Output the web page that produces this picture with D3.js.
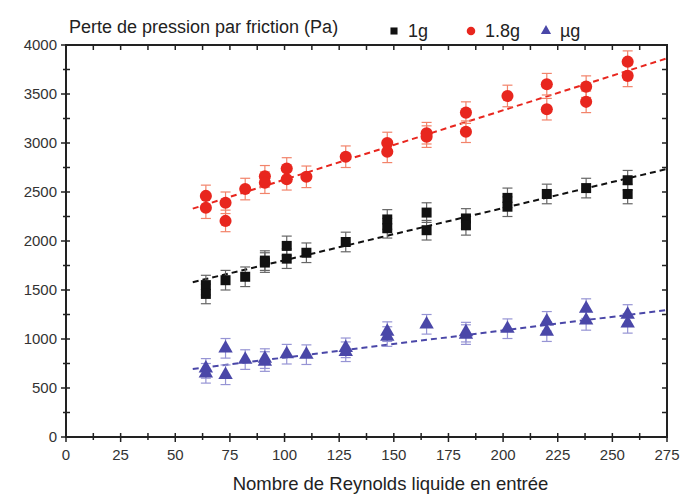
<!DOCTYPE html>
<html><head><meta charset="utf-8">
<script src="https://cdn.jsdelivr.net/npm/d3@7"></script>
<style>body{margin:0;background:#fff}</style>
</head><body><svg id="c" width="680" height="497"></svg>
<script>
// ---- data ----
const xTicks = [0,25,50,75,100,125,150,175,200,225,250,275];
const yTicks = [0,500,1000,1500,2000,2500,3000,3500,4000];
const seriesNames = ["1g","1.8g","µg"];

const g1_x = [64,64,73,82,91,91,101,101,110,128,147,147,165,165,183,183,202,202,220,238,257,257];
const g1_y = [1550,1460,1600,1635,1800,1780,1950,1820,1880,1990,2220,2130,2290,2110,2230,2160,2440,2350,2480,2540,2620,2480];
const g1_err = 100;

const g18_x = [64,64,73,73,82,91,91,101,101,110,128,147,147,165,165,183,183,202,220,220,238,238,257,257];
const g18_y = [2460,2340,2390,2205,2530,2660,2595,2740,2630,2655,2860,3000,2910,3100,3065,3310,3115,3480,3600,3345,3575,3420,3830,3685];
const g18_err = 110;

const mug_x = [64,64,73,73,82,91,91,101,110,128,128,147,147,165,183,183,202,220,220,238,238,257,257];
const mug_y = [700,650,905,635,790,800,770,845,840,910,870,1075,1025,1150,1070,1045,1105,1180,1075,1310,1190,1250,1160];
const mug_err = 100;

// fitted trend lines (end points)
const fit_x = [58,275];
const fit_g1 = [1580,2735];
const fit_g18 = [2330,3864];
const fit_mug = [694,1296];

// ---- chart ----
const svg = d3.select("#c");
const L=66, R=667, T=45, B=437;
const x = d3.scaleLinear().domain([0,275]).range([L,R]);
const y = d3.scaleLinear().domain([0,4000]).range([B,T]);
const font = "Liberation Sans, Arial, sans-serif";

const series = [
  {name:seriesNames[0], xs:g1_x, ys:g1_y, err:g1_err, fit:fit_g1, color:"#111111", ecolor:"#666666", shape:d3.symbolSquare, size:100},
  {name:seriesNames[1], xs:g18_x, ys:g18_y, err:g18_err, fit:fit_g18, color:"#e8261e", ecolor:"#f2836a", shape:d3.symbolCircle, size:115},
  {name:seriesNames[2], xs:mug_x, ys:mug_y, err:mug_err, fit:fit_mug, color:"#4a47a8", ecolor:"#9694d4", shape:d3.symbolTriangle, size:90}
];

// fit lines
series.forEach(s=>{
  svg.append("line")
    .attr("x1",x(fit_x[0])).attr("x2",x(fit_x[1]))
    .attr("y1",y(s.fit[0])).attr("y2",y(s.fit[1]))
    .attr("stroke",s.color).attr("stroke-width",2).attr("stroke-dasharray","6,4");
});

// error bars and markers
series.forEach(s=>{
  const gr = svg.append("g");
  s.xs.forEach((xv,i)=>{
    const cx=x(xv), yv=s.ys[i];
    gr.append("line").attr("x1",cx).attr("x2",cx).attr("y1",y(yv-s.err)).attr("y2",y(yv+s.err))
      .attr("stroke",s.ecolor).attr("stroke-width",1.2);
    [yv-s.err,yv+s.err].forEach(v=>{
      gr.append("line").attr("x1",cx-5).attr("x2",cx+5).attr("y1",y(v)).attr("y2",y(v))
        .attr("stroke",s.ecolor).attr("stroke-width",1.2);
    });
  });
  s.xs.forEach((xv,i)=>{
    gr.append("path").attr("d",d3.symbol().type(s.shape).size(s.size)())
      .attr("transform",`translate(${x(xv)},${y(s.ys[i])})`).attr("fill",s.color);
  });
});

// axes
const ax = svg.append("g").attr("stroke","#222").attr("stroke-width",1.5);
ax.append("rect").attr("x",L).attr("y",T).attr("width",R-L).attr("height",B-T)
  .attr("fill","none").attr("stroke-width",2);

const xMinor = d3.range(0,276,12.5);
const yMinor = d3.range(0,4001,250);
xMinor.forEach(v=>{
  const major = v%25===0;
  ax.append("line").attr("x1",x(v)).attr("x2",x(v)).attr("y1",B-4).attr("y2",B+(major?5:3));
  ax.append("line").attr("x1",x(v)).attr("x2",x(v)).attr("y1",T).attr("y2",T+5);
});
yMinor.forEach(v=>{
  const major = v%500===0;
  ax.append("line").attr("x1",L-(major?5:3)).attr("x2",L+4).attr("y1",y(v)).attr("y2",y(v));
  ax.append("line").attr("x1",R-5).attr("x2",R).attr("y1",y(v)).attr("y2",y(v));
});

svg.append("g").selectAll("text").data(xTicks).join("text")
  .attr("x",d=>x(d)).attr("y",B+23).attr("text-anchor","middle")
  .attr("font-family",font).attr("font-size",15).attr("fill","#333").text(d=>d);
svg.append("g").selectAll("text").data(yTicks).join("text")
  .attr("x",L-9).attr("y",d=>y(d)+5).attr("text-anchor","end")
  .attr("font-family",font).attr("font-size",15).attr("fill","#333").text(d=>d);

svg.append("text").attr("x",x(137.5)+24).attr("y",490).attr("text-anchor","middle")
  .attr("font-family",font).attr("font-size",18.5).attr("fill","#222")
  .text("Nombre de Reynolds liquide en entrée");
svg.append("text").attr("x",69).attr("y",33)
  .attr("font-family",font).attr("font-size",18).attr("fill","#222")
  .text("Perte de pression par friction (Pa)");

// legend
const legX = [394,471,546];
series.forEach((s,i)=>{
  svg.append("path").attr("d",d3.symbol().type(s.shape).size(s.size*0.5)())
    .attr("transform",`translate(${legX[i]},31)`).attr("fill",s.color);
  svg.append("text").attr("x",legX[i]+14).attr("y",37)
    .attr("font-family",font).attr("font-size",18).attr("fill","#222").text(s.name);
});
</script></body></html>
